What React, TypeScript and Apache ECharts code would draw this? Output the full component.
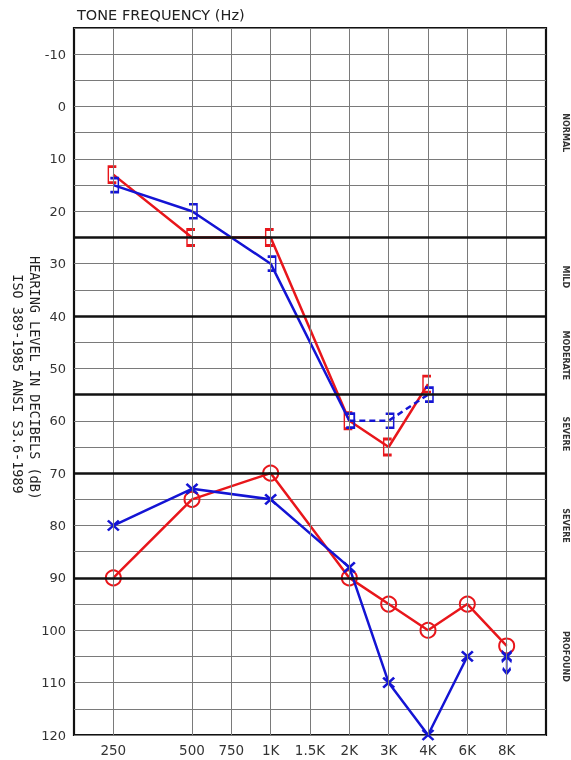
import React, { useEffect, useRef } from 'react';
import * as echarts from 'echarts';

// Tick labels of the frequency axis: the index of each label is its position on the axis
const freqLabels = ['', '250', '', '500', '750', '1K', '1.5K', '2K', '3K', '4K', '6K', '8K', ''];
const dbMin = -15;
const dbMax = 120;
const degreeBoundaries = [25, 40, 55, 70, 90];
const degreeNames = ['NORMAL', 'MILD', 'MODERATE', 'SEVERE', 'SEVERE', 'PROFOUND'];
const degreeRanges = [[-15, 25], [25, 40], [40, 55], [55, 70], [70, 90], [90, 120]];

// Right ear, masked bone conduction ( [ )
const rightBoneFreqs = ['250', '500', '1K', '2K', '3K', '4K'];
const rightBoneDb = [13, 25, 25, 60, 65, 53];
// Left ear, masked bone conduction ( ] )
const leftBoneFreqs = ['250', '500', '1K', '2K'];
const leftBoneDb = [15, 20, 30, 60];
const leftBoneDashFreqs = ['2K', '3K', '4K'];
const leftBoneDashDb = [60, 60, 55];
// Right ear, air conduction ( O )
const rightAirFreqs = ['250', '500', '1K', '2K', '3K', '4K', '6K', '8K'];
const rightAirDb = [90, 75, 70, 90, 95, 100, 95, 103];
// Left ear, air conduction ( X )
const leftAirFreqs = ['250', '500', '1K', '2K', '3K', '4K', '6K'];
const leftAirDb = [80, 73, 75, 88, 110, 120, 105];
// Left ear, no response
const leftNoRespFreqs = ['8K'];
const leftNoRespDb = [105];

const RED = '#e8161b';
const BLUE = '#1414d4';

const pts = (freqs: string[], db: number[]) => freqs.map((f, i) => [freqLabels.indexOf(f), db[i]]);

const SYM_LBRACKET = 'path://M8,0 L0,0 L0,16 L8,16';
const SYM_RBRACKET = 'path://M0,0 L8,0 L8,16 L0,16';
const SYM_X = 'path://M0,0 L10,10 M10,0 L0,10';
const SYM_X_ARROW = 'path://M0,0 L10,10 M10,0 L0,10 M5,5 L5,22 M1,17 L5,22 L9,17';

export default function App() {
  const ref = useRef<HTMLDivElement>(null);
  useEffect(() => {
    if (!ref.current) return;
    const chart = echarts.init(ref.current, null, { renderer: 'svg' });
    const font = 'DejaVu Sans';
    const gridLinePositions = freqLabels.map((l, i) => (l ? i : -1)).filter((i) => i >= 0);
    chart.setOption({
      animation: false,
      grid: {
        left: 74,
        right: 25,
        top: 28,
        bottom: 25,
        show: true,
        borderColor: '#111',
        borderWidth: 2.2,
        backgroundColor: '#fff',
      },
      xAxis: {
        type: 'value',
        min: 0,
        max: freqLabels.length - 1,
        interval: 1,
        splitLine: { show: false },
        axisLine: { show: false },
        axisTick: { show: false },
        axisLabel: {
          formatter: (v: number) => freqLabels[v] || '',
          color: '#333',
          fontFamily: font,
          fontSize: 13.5,
          margin: 8,
        },
      },
      yAxis: {
        type: 'value',
        inverse: true,
        min: dbMin,
        max: dbMax,
        interval: 5,
        axisLine: { show: false },
        axisTick: { show: false },
        splitLine: { show: true, lineStyle: { color: '#7a7a7a', width: 1 } },
        axisLabel: {
          formatter: (v: number) => (v % 10 === 0 ? String(v) : ''),
          color: '#333',
          fontFamily: font,
          fontSize: 13,
          margin: 8,
        },
      },
      graphic: [
        {
          type: 'text',
          left: 77,
          top: 7,
          style: { text: 'TONE FREQUENCY (Hz)', fill: '#222', font: `14.5px "${font}"` },
        },
        {
          type: 'text',
          x: 35,
          y: 378,
          rotation: -Math.PI / 2,
          style: {
            text: 'HEARING LEVEL IN DECIBELS (dB)',
            fill: '#222',
            font: '13.5px "DejaVu Sans Mono"',
            align: 'center',
            verticalAlign: 'middle',
          },
        },
        {
          type: 'text',
          x: 18,
          y: 384,
          rotation: -Math.PI / 2,
          style: {
            text: 'ISO 389-1985 ANSI S3.6-1989',
            fill: '#222',
            font: '13.5px "DejaVu Sans Mono"',
            align: 'center',
            verticalAlign: 'middle',
          },
        },
      ],
      series: [
        {
          type: 'line',
          data: [],
          z: 1,
          silent: true,
          markLine: {
            silent: true,
            symbol: 'none',
            label: { show: false },
            animation: false,
            data: [
              ...gridLinePositions.map((x) => ({ xAxis: x, lineStyle: { color: '#7a7a7a', width: 1, type: 'solid' } })),
              ...degreeBoundaries.map((y) => ({ yAxis: y, lineStyle: { color: '#111', width: 2.5, type: 'solid' } })),
            ],
          },
        },
        {
          type: 'line',
          data: pts(rightBoneFreqs, rightBoneDb),
          z: 3,
          symbol: SYM_LBRACKET,
          symbolSize: [8, 16],
          symbolOffset: [-1, 0],
          lineStyle: { color: RED, width: 2.5 },
          itemStyle: { color: 'transparent', borderColor: RED, borderWidth: 2 },
          emphasis: { disabled: true },
        },
        {
          type: 'line',
          data: pts(leftBoneFreqs, leftBoneDb),
          z: 4,
          symbol: SYM_RBRACKET,
          symbolSize: [8, 14],
          symbolOffset: [1, 0],
          lineStyle: { color: BLUE, width: 2.5 },
          itemStyle: { color: 'transparent', borderColor: BLUE, borderWidth: 2 },
          emphasis: { disabled: true },
        },
        {
          type: 'line',
          data: pts(leftBoneDashFreqs, leftBoneDashDb),
          z: 4,
          symbol: SYM_RBRACKET,
          symbolSize: [8, 14],
          symbolOffset: [1, 0],
          lineStyle: { color: BLUE, width: 2.5, type: [6, 4] },
          itemStyle: { color: 'transparent', borderColor: BLUE, borderWidth: 2 },
          emphasis: { disabled: true },
        },
        {
          type: 'line',
          data: pts(rightAirFreqs, rightAirDb),
          z: 3,
          symbol: 'circle',
          symbolSize: 15,
          lineStyle: { color: RED, width: 2.5 },
          itemStyle: { color: 'transparent', borderColor: RED, borderWidth: 2 },
          emphasis: { disabled: true },
        },
        {
          type: 'line',
          data: pts(leftAirFreqs, leftAirDb),
          z: 4,
          symbol: SYM_X,
          symbolSize: [11, 10],
          lineStyle: { color: BLUE, width: 2.5 },
          itemStyle: { color: 'transparent', borderColor: BLUE, borderWidth: 2.5 },
          emphasis: { disabled: true },
        },
        {
          type: 'scatter',
          data: pts(leftNoRespFreqs, leftNoRespDb),
          z: 4,
          symbol: SYM_X_ARROW,
          symbolSize: [10, 22],
          symbolOffset: [0, 6],
          itemStyle: { color: 'transparent', borderColor: BLUE, borderWidth: 2.5, opacity: 1 },
          emphasis: { disabled: true },
        },
      ],
    });

    const xRight = chart.convertToPixel({ xAxisIndex: 0 }, freqLabels.length - 1) as number;
    chart.setOption({
      graphic: degreeNames.map((name, i) => ({
        type: 'text',
        id: 'deg' + i,
        x: xRight + 19,
        y: chart.convertToPixel({ yAxisIndex: 0 }, (degreeRanges[i][0] + degreeRanges[i][1]) / 2) as number,
        rotation: -Math.PI / 2,
        style: {
          text: name,
          fill: '#333',
          font: `bold 8px "${font}"`,
          align: 'center',
          verticalAlign: 'middle',
        },
      })),
    });

    return () => chart.dispose();
  }, []);
  return <div ref={ref} style={{ position: 'fixed', left: 0, top: 0, width: 571, height: 760 }} />;
}
